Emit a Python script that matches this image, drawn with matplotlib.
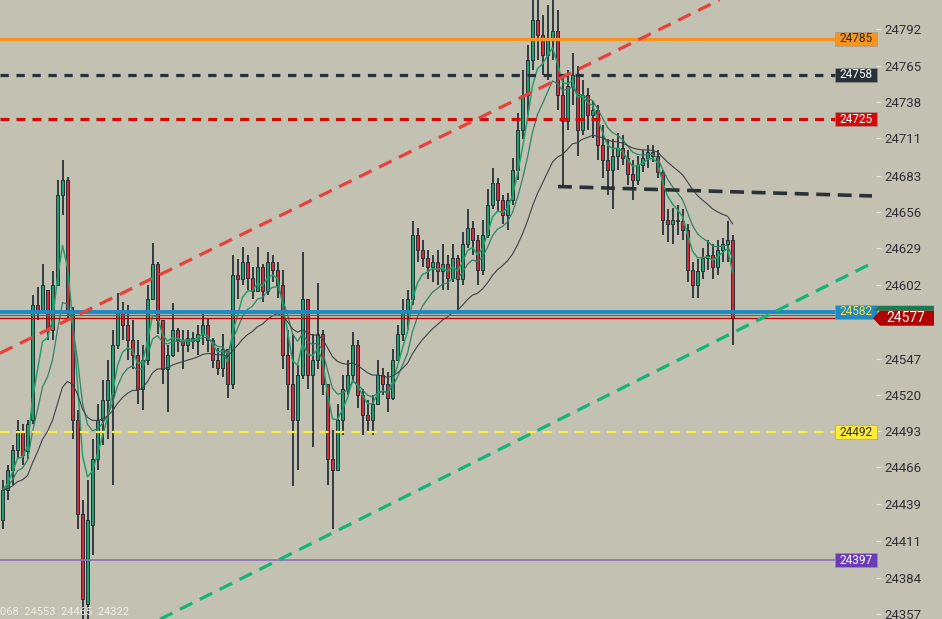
"""
Intraday candlestick chart with moving averages, price levels and trendlines.
Writes out.png (942x619).
"""

import matplotlib

matplotlib.use("Agg")

import matplotlib.pyplot as plt
import matplotlib.transforms as mtransforms
import numpy as np
import pandas as pd
from matplotlib.patches import Polygon, Rectangle

plt.rcParams["font.family"] = ["Roboto", "DejaVu Sans"]
plt.rcParams["lines.scale_dashes"] = False

# ---------------------------------------------------------------------------
# Data
# ---------------------------------------------------------------------------
opens = [
    24427, 24449, 24464, 24479, 24493, 24478, 24501, 24587, 24583, 24598,
    24568, 24602, 24669, 24680, 24583, 24501, 24431, 24364, 24423, 24472,
    24501, 24516, 24520, 24557, 24583, 24572, 24561, 24550, 24524, 24546,
    24591, 24617, 24576, 24539, 24550, 24568, 24561, 24557, 24562, 24560,
    24565, 24572, 24561, 24546, 24540, 24554, 24528, 24609, 24606, 24619,
    24607, 24597, 24615, 24597, 24619, 24613, 24602, 24550, 24528, 24501,
    24535, 24591, 24535, 24546, 24565, 24528, 24472, 24464, 24501, 24524,
    24535, 24557, 24520, 24505, 24501, 24513, 24535, 24528, 24518, 24546,
    24565, 24582, 24591, 24639, 24628, 24622, 24615, 24619, 24612, 24617,
    24607, 24622, 24606, 24632, 24644, 24635, 24613, 24639, 24661, 24678,
    24665, 24654, 24665, 24687, 24717, 24743, 24769, 24799, 24788, 24773,
    24784, 24791, 24743, 24724, 24750, 24758, 24717, 24743, 24728, 24732,
    24706, 24695, 24687, 24698, 24704, 24696, 24684, 24680, 24691, 24696,
    24701, 24698, 24686, 24650, 24647, 24650, 24649, 24643, 24613, 24602,
    24612, 24622, 24624, 24615, 24628, 24632, 24635,
]
highs = [
    24457, 24468, 24483, 24501, 24498, 24501, 24594, 24600, 24617, 24598,
    24612, 24680, 24695, 24682, 24585, 24509, 24442, 24457, 24487, 24513,
    24531, 24546, 24568, 24596, 24589, 24587, 24576, 24561, 24557, 24602,
    24633, 24619, 24576, 24557, 24588, 24570, 24568, 24568, 24567, 24572,
    24580, 24577, 24562, 24555, 24565, 24554, 24624, 24621, 24630, 24624,
    24615, 24630, 24617, 24626, 24624, 24619, 24613, 24568, 24565, 24542,
    24626, 24591, 24565, 24603, 24568, 24528, 24494, 24513, 24535, 24546,
    24567, 24561, 24524, 24516, 24520, 24546, 24540, 24537, 24554, 24572,
    24591, 24598, 24649, 24644, 24635, 24628, 24624, 24628, 24632, 24624,
    24632, 24624, 24641, 24658, 24649, 24639, 24650, 24673, 24689, 24681,
    24669, 24670, 24696, 24730, 24762, 24780, 24821, 24814, 24803, 24810,
    24818, 24806, 24758, 24762, 24774, 24765, 24754, 24748, 24739, 24736,
    24721, 24710, 24710, 24715, 24713, 24702, 24695, 24698, 24702, 24706,
    24706, 24702, 24687, 24658, 24659, 24661, 24658, 24647, 24619, 24621,
    24629, 24635, 24632, 24635, 24637, 24649, 24639,
]
lows = [
    24420, 24442, 24453, 24472, 24468, 24472, 24498, 24576, 24583, 24561,
    24561, 24602, 24654, 24576, 24487, 24420, 24338, 24338, 24401, 24464,
    24483, 24487, 24453, 24554, 24561, 24546, 24539, 24513, 24509, 24542,
    24591, 24565, 24528, 24507, 24548, 24552, 24539, 24552, 24554, 24550,
    24557, 24552, 24540, 24535, 24533, 24518, 24524, 24591, 24602, 24598,
    24591, 24597, 24589, 24594, 24604, 24592, 24539, 24509, 24452, 24464,
    24532, 24524, 24481, 24539, 24520, 24453, 24420, 24464, 24490, 24520,
    24530, 24510, 24490, 24493, 24490, 24513, 24520, 24507, 24516, 24545,
    24560, 24568, 24587, 24619, 24615, 24606, 24604, 24602, 24598, 24598,
    24604, 24581, 24602, 24629, 24624, 24602, 24609, 24637, 24658, 24656,
    24647, 24643, 24661, 24680, 24710, 24728, 24762, 24769, 24758, 24754,
    24769, 24732, 24676, 24717, 24736, 24698, 24713, 24717, 24711, 24695,
    24681, 24669, 24658, 24687, 24691, 24676, 24665, 24676, 24686, 24689,
    24693, 24681, 24639, 24634, 24632, 24639, 24635, 24604, 24592, 24592,
    24606, 24613, 24606, 24609, 24619, 24619, 24557,
]
closes = [
    24449, 24464, 24479, 24494, 24475, 24498, 24587, 24582, 24602, 24568,
    24602, 24669, 24680, 24583, 24501, 24431, 24368, 24427, 24472, 24501,
    24516, 24531, 24557, 24583, 24572, 24561, 24550, 24524, 24546, 24591,
    24617, 24576, 24539, 24550, 24568, 24561, 24557, 24562, 24560, 24565,
    24572, 24561, 24546, 24540, 24554, 24528, 24609, 24606, 24619, 24607,
    24597, 24615, 24597, 24619, 24613, 24602, 24550, 24528, 24501, 24535,
    24591, 24535, 24546, 24565, 24528, 24472, 24464, 24501, 24524, 24535,
    24557, 24520, 24505, 24501, 24513, 24535, 24528, 24518, 24546, 24565,
    24582, 24591, 24639, 24628, 24622, 24615, 24619, 24612, 24617, 24607,
    24622, 24606, 24632, 24644, 24635, 24613, 24639, 24661, 24678, 24665,
    24654, 24665, 24687, 24717, 24743, 24769, 24799, 24788, 24773, 24784,
    24791, 24743, 24724, 24750, 24758, 24717, 24743, 24728, 24732, 24706,
    24695, 24687, 24698, 24704, 24696, 24684, 24680, 24691, 24696, 24701,
    24698, 24686, 24650, 24647, 24650, 24649, 24643, 24613, 24602, 24612,
    24622, 24624, 24615, 24628, 24632, 24635, 24577,
]

# right-hand price scale
axis_ticks = [24357, 24384, 24411, 24439, 24466, 24493, 24520, 24547,
              24602, 24629, 24656, 24683, 24711, 24738, 24765, 24792]

# horizontal levels: price, line colour, tag fill, tag text colour
level_prices = [24785, 24758, 24725, 24582, 24492, 24397]
level_colors = ["#f7931e", "#263238", "#d10a0a", "#1e88c8", "#ffeb3b", "#8e6cc0"]
tag_fills = ["#f7931e", "#263238", "#d10a0a", "#1e88c8", "#ffeb3b", "#6a3cb5"]
tag_text = ["#2a2a2a", "#ffffff", "#ffffff", "#f5e642", "#2a2a2a", "#ffffff"]

last_price = 24577
last_green = 24579.5

# trendline anchors (candle index, price)
red_trend_x = [-0.5, 143.5]
red_trend_y = [24551, 24814]
green_trend_x = [31.5, 173.9]
green_trend_y = [24353, 24618]
flat_trend_x = [111.1, 173.9]
flat_trend_y = [24675, 24668]

BG = "#c3c1b2"
WICK = "#263238"
UP = "#1f9e6e"
DOWN = "#d42a3c"

# ---------------------------------------------------------------------------
# Figure
# ---------------------------------------------------------------------------
W, H = 942, 619
fig = plt.figure(figsize=(W / 100, H / 100), dpi=100, facecolor=BG)
ax = fig.add_axes([0, 0, 876 / W, 1], facecolor=BG)

o = np.array(opens, dtype=float)
h = np.array(highs, dtype=float)
lo = np.array(lows, dtype=float)
c = np.array(closes, dtype=float)
idx = np.arange(len(c))

# candles: dark wicks and outlines, coloured bodies
ax.vlines(idx, lo, h, color=WICK, lw=1.3, zorder=2)
body_colors = np.where(c >= o, UP, DOWN)
body_h = np.maximum(np.abs(c - o), 0.6)
ax.bar(idx, body_h, bottom=np.minimum(o, c), width=0.72, color=body_colors,
       edgecolor=WICK, linewidth=0.7, zorder=3)

# moving averages
s = pd.Series(c)
ax.plot(idx, s.ewm(span=5, adjust=False).mean(), color="#22a06b", lw=1.1, zorder=4)
ax.plot(idx, s.ewm(span=10, adjust=False).mean(), color="#2e8467", lw=0.9, zorder=4)
ax.plot(idx, s.ewm(span=26, adjust=False).mean(), color="#3c4246", lw=0.8, zorder=4)

# horizontal levels
ax.axhline(level_prices[0], color=level_colors[0], lw=2.3, zorder=5)
ax.axhline(level_prices[1], color=level_colors[1], lw=2.3,
           linestyle=(0, (6, 5.5)), zorder=5)
ax.axhline(level_prices[2], color=level_colors[2], lw=2.3,
           linestyle=(0, (6.5, 5)), zorder=5)
ax.axhline(level_prices[3], color=level_colors[3], lw=2.8, zorder=5)
ax.axhline(last_green, color="#178a55", lw=0.9, zorder=5)
ax.axhline(last_price, color="#c00000", lw=0.9, zorder=5)
ax.axhline(level_prices[4], color=level_colors[4], lw=1.6,
           linestyle=(0, (6.5, 5)), zorder=5)
ax.axhline(level_prices[5], color=level_colors[5], lw=1.2, zorder=5)

# trendlines
ax.axline((red_trend_x[0], red_trend_y[0]), (red_trend_x[1], red_trend_y[1]),
          color="#e8403a", lw=2.3, linestyle=(0, (10, 6)), zorder=5)
ax.plot(green_trend_x, green_trend_y, color="#14b578", lw=2.3,
        linestyle=(0, (10, 6)), zorder=5)
ax.plot(flat_trend_x, flat_trend_y, color="#2a3236", lw=2.6,
        linestyle=(0, (10, 5.5)), zorder=5)

ax.set_xlim(-0.5, 174.7)
ax.set_ylim(24353.2, 24813.8)

# price scale on the right
ax.yaxis.tick_right()
ax.set_yticks(axis_ticks)
ax.set_yticklabels([str(v) for v in axis_ticks])
ax.tick_params(axis="y", direction="out", length=3.6, width=0.8,
               color="#ecebe2", pad=2.2, labelsize=9.5, labelcolor="#2f3033")
ax.set_xticks([])
for sp in ax.spines.values():
    sp.set_visible(False)

# level tags
trans = mtransforms.blended_transform_factory(ax.transAxes, ax.transData)
px_per_unit = 619 / (24813.8 - 24353.2)
tag_h = 14 / px_per_unit
for price, fill, tcol in zip(level_prices, tag_fills, tag_text):
    ax.add_patch(Rectangle((835 / 876, price - tag_h / 2), 42 / 876, tag_h,
                           transform=trans, facecolor=fill,
                           edgecolor="#9a9a90", lw=0.4, zorder=8, clip_on=False))
    ax.text(856 / 876, price, str(price), transform=trans, ha="center",
            va="center", fontsize=8.5, color=tcol, zorder=9)

# last-price tag (arrow shape) with the green strip above it
half = 7.5 / px_per_unit
ax.add_patch(Polygon([(874 / 876, last_price + half),
                      (878 / 876, last_price + half + 5 / px_per_unit),
                      (934 / 876, last_price + half + 5 / px_per_unit),
                      (934 / 876, last_price + half)],
                     closed=True, transform=trans, facecolor="#1a7a50",
                     edgecolor="none", zorder=8, clip_on=False))
ax.add_patch(Polygon([(873 / 876, last_price),
                      (880 / 876, last_price + half),
                      (934 / 876, last_price + half),
                      (934 / 876, last_price - half),
                      (880 / 876, last_price - half)],
                     closed=True, transform=trans, facecolor="#b00000",
                     edgecolor="none", zorder=8, clip_on=False))
ax.text(906 / 876, last_price, str(last_price), transform=trans, ha="center",
        va="center", fontsize=10, color="white", zorder=9, clip_on=False)

# crosshair readout at the bottom-left corner
ax.text(0.0, 0.004, "068  24553  24465  24322", transform=ax.transAxes,
        ha="left", va="bottom", fontsize=8, color="#eeede6", zorder=10)

fig.savefig("out.png", dpi=100, facecolor=BG)
plt.close(fig)
